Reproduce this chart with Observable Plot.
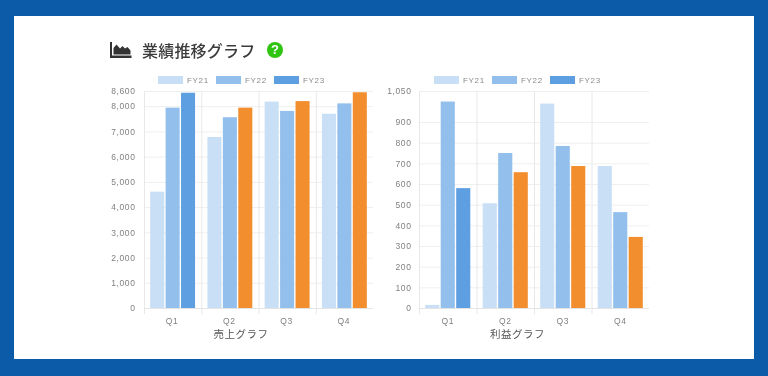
<!DOCTYPE html>
<html lang="ja"><head><meta charset="utf-8">
<script src="https://cdn.jsdelivr.net/npm/d3@7"></script>
<script src="https://cdn.jsdelivr.net/npm/@observablehq/plot@0.6"></script>
<style>
html,body{margin:0;padding:0;background:#0b5ba8;width:768px;height:376px;overflow:hidden}
#panel{position:absolute;left:14px;top:16px;width:740px;height:343px;background:#fff}
#stage{position:absolute;left:0;top:0;width:768px;height:376px;filter:blur(.55px);font-family:"Liberation Sans",Arial,sans-serif}
.plot{position:absolute;top:85px}
.plot svg{display:block;overflow:visible;max-width:none}
#title{position:absolute;left:142px;top:38px;font:500 16px/24px "Noto Sans CJK JP",sans-serif;color:#3c3c3c;letter-spacing:.2px;white-space:nowrap}
#icon{position:absolute;left:110px;top:42px}
#help{position:absolute;left:267px;top:42px;width:16px;height:16px;border-radius:50%;background:#2fc40f;color:#fff;font:700 13px/16px "Liberation Sans",sans-serif;text-align:center}
.legend{position:absolute;top:75px;height:10px;display:flex;align-items:center;font-size:8px;color:#8a8a8a;letter-spacing:.7px}
.legend i{display:block;width:25px;height:8px;margin-right:4px}
.legend span{margin-right:9px;width:20px;white-space:nowrap}
.cap{position:absolute;top:326px;width:100px;text-align:center;font:10.500px/16px "Noto Sans CJK JP",sans-serif;color:#555;letter-spacing:.5px}
</style></head><body>
<div id="panel"></div>
<div id="stage">
<svg id="icon" width="22" height="16" viewBox="0 0 22 16"><path d="M0 0h2v13.500h19.500V16H0z" fill="#333"/><path d="M3.500 12.500V6l3-3.500 3.500 4 2.500-2.500 2.500 2.500 2.500-1.500 3 3.500v4z" fill="#333"/></svg>
<div id="title">業績推移グラフ</div>
<div id="help">?</div>
<div class="legend" id="legendA" style="left:158px"></div>
<div class="legend" id="legendB" style="left:434px"></div>
<div class="plot" id="salesPlot" style="left:100px"></div>
<div class="plot" id="profitPlot" style="left:375px"></div>
<div class="cap" id="capA" style="left:191px"></div>
<div class="cap" id="capB" style="left:467.500px"></div>
</div>
<script>
const quarters = ["Q1","Q2","Q3","Q4"];
const years = ["FY21","FY22","FY23"];
const sales21 = [4610,6780,8180,7700];
const sales22 = [7940,7560,7810,8110];
const sales23 = [8530,7940,8200,8550];
const profit21 = [15,507,989,687];
const profit22 = [999,750,784,464];
const profit23 = [580,657,687,344];
const salesTicks = [0,1000,2000,3000,4000,5000,6000,7000,8000,8600];
const profitTicks = [0,100,200,300,400,500,600,700,800,900,1050];
const captions = ["売上グラフ","利益グラフ"];
const colorKeys = ["FY21","FY22","FY23","FY23 later"];
const colorValues = ["#c8dff6","#92bfec","#5e9fe2","#f28e2e"];

function rows(a,b,c){
  const out=[];
  quarters.forEach((q,i)=>{
    out.push({q,s:"FY21",v:a[i],c:"FY21"});
    out.push({q,s:"FY22",v:b[i],c:"FY22"});
    out.push({q,s:"FY23",v:c[i],c:i===0?"FY23":"FY23 later"});
  });
  return out;
}
function chart(data,ticks,max,inner,pad,qdx){
  return Plot.plot({
    width:280,height:255,marginTop:6,marginBottom:32,marginLeft:44,marginRight:280-44-inner,
    style:{background:"transparent",fontFamily:"'Liberation Sans',Arial,sans-serif",fontSize:"8.500px",color:"#808080",letterSpacing:".6px"},
    fx:{domain:quarters,paddingInner:0,paddingOuter:0,round:false},
    x:{domain:years,paddingInner:.09,paddingOuter:.4,axis:null,round:false},
    y:{domain:[0,max],axis:null},
    color:{domain:colorKeys,range:colorValues},
    marks:[
      Plot.ruleY(ticks,{stroke:"#efefef",strokeWidth:1}),
      Plot.frame({anchor:"left",stroke:"#e8e8e8",strokeOpacity:1,insetBottom:-5}),
      Plot.ruleY([0],{stroke:"#e4e4e4"}),
      Plot.axisY({ticks,tickFormat:d3.format(","),tickSize:0,tickPadding:pad,label:null,anchor:"left",fill:"#808080"}),
      Plot.barY(data,{fx:"q",x:"s",y:"v",fill:"c"}),
      Plot.axisFx({anchor:"bottom",tickSize:0,tickPadding:9,label:null,dx:qdx,fill:"#808080"})
    ]
  });
}
document.getElementById("salesPlot").append(chart(rows(sales21,sales22,sales23),salesTicks,8600,229,9,-1));
document.getElementById("profitPlot").append(chart(rows(profit21,profit22,profit23),profitTicks,1050,230,8,-0.5));
document.getElementById("capA").textContent=captions[0];
document.getElementById("capB").textContent=captions[1];
for(const id of ["legendA","legendB"]){
  const el=document.getElementById(id);
  years.forEach((y,i)=>{
    const sw=document.createElement("i");sw.style.background=colorValues[i];
    const t=document.createElement("span");t.textContent=y;
    el.append(sw,t);
  });
}
</script>
</body></html>
